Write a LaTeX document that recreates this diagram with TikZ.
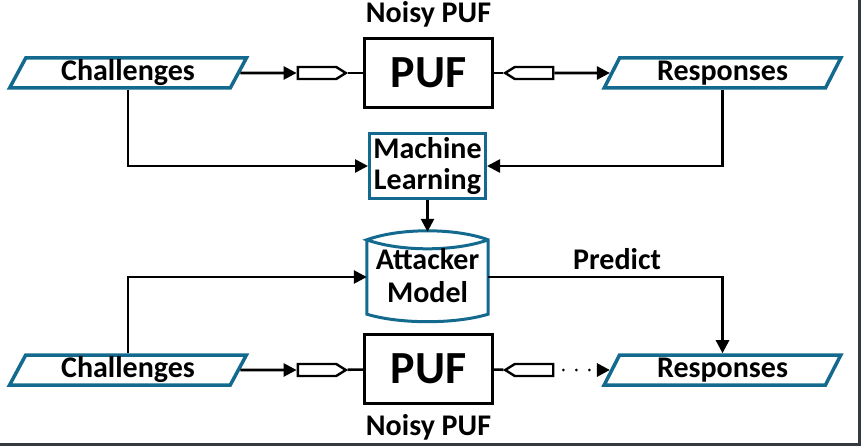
\documentclass[tikz,border=0pt]{standalone}
\usepackage{fontspec}
\setmainfont{Carlito}
\usetikzlibrary{shapes.geometric,shapes.symbols,arrows.meta}
\definecolor{pufteal}{RGB}{20,106,142}
\definecolor{edgegray}{RGB}{52,58,64}

\begin{document}
\begin{tikzpicture}[x=1pt, y=-1pt, font=\bfseries\fontsize{30}{32}\selectfont,
  databox/.style={draw=pufteal, fill=white, line width=3.5pt, trapezium, trapezium left angle=68,
    trapezium right angle=112, trapezium stretches=true, minimum width=237pt, minimum height=30pt, inner sep=0pt},
  pufbox/.style={draw, fill=white, line width=2.8pt, minimum width=128pt, minimum height=69pt,
    font=\bfseries\fontsize{46}{48}\selectfont},
  mlbox/.style={draw=pufteal, fill=white, line width=3pt, minimum width=116pt, minimum height=65pt,
    inner sep=0pt, align=center},
  plug/.style={draw, fill=white, line width=2.4pt, signal, signal pointer angle=64, minimum width=48pt,
    minimum height=12pt, inner sep=0pt},
  arr/.style={line width=2.6pt, -{Triangle[length=13pt,width=13pt]}},
  ln/.style={line width=2.6pt}]
  \useasboundingbox (0,0) rectangle (861,446);

  % upper row: the noisy PUF answers the challenges
  \node[databox] (ch1) at (128,73) {Challenges};
  \node[plug, signal to=east] (pl1) at (317,73) {};
  \node[pufbox] (puf1) at (428.5,73) {PUF};
  \node (np1) at (428.5,14) {Noisy PUF};
  \node[plug, signal to=west] (pl2) at (534,73) {};
  \node[databox] (res1) at (722.5,73) {Responses};

  % learning and the model
  \node[mlbox, font=\bfseries\fontsize{30}{31}\selectfont] (ml) at (427.5,166) {Machine\\Learning};
  \node[inner sep=0pt, minimum width=121pt, minimum height=74pt] (atk) at (427.5,277) {};
  \draw[draw=pufteal, fill=white, line width=3pt]
    (atk.north west) -- (atk.south west)
    .. controls ([yshift=-10pt]atk.south west -| 400,0) and ([yshift=-10pt]atk.south east -| 455,0) .. (atk.south east)
    -- (atk.north east)
    .. controls ([yshift=12pt]atk.north east -| 455,0) and ([yshift=12pt]atk.north west -| 400,0) .. (atk.north west)
    .. controls ([yshift=-12pt]atk.north west -| 400,0) and ([yshift=-12pt]atk.north east -| 455,0) .. (atk.north east);
  \node[inner sep=0pt, align=center, font=\bfseries\fontsize{30}{33}\selectfont] at ([yshift=1pt]atk.center) {Attacker\\Model};

  % lower row: the same noisy PUF, predicted by the model
  \node[databox] (ch2) at (128,370) {Challenges};
  \node[plug, signal to=east] (pl3) at (317,370) {};
  \node[pufbox] (puf2) at (428.5,369) {PUF};
  \node (np2) at (428.5,427) {Noisy PUF};
  \node[plug, signal to=west] (pl4) at (534,370) {};
  \node[databox] (res2) at (722.5,370) {Responses};

  \draw[arr] (ch1) -- (pl1);
  \draw[ln] (pl1) -- (puf1);
  \draw[ln] (puf1) -- (pl2);
  \draw[arr] (pl2) -- (res1);
  \draw[arr] (ch1.south) |- (ml.west);
  \draw[arr] (res1.south) |- (ml.east);
  \draw[arr] (ml.south) -- ([yshift=8pt]atk.north);

  \draw[arr] (ch2.north) |- (atk.west);
  \draw[arr] (atk.east) -| node[pos=0.275, above=3pt] (pred) {Predict} (res2.north);
  \draw[arr] (ch2) -- (pl3);
  \draw[ln] (pl3) -- (puf2);
  \draw[ln] (puf2) -- (pl4);
  \draw[arr, line width=3pt, line cap=round, dash pattern=on 0pt off 13pt, dash phase=4pt] (pl4) -- (res2);

  \draw[edgegray, line width=3pt] (859.5,0) -- (859.5,446);
  \draw[edgegray, line width=3pt] (0,444.5) -- (861,444.5);
\end{tikzpicture}
\end{document}
